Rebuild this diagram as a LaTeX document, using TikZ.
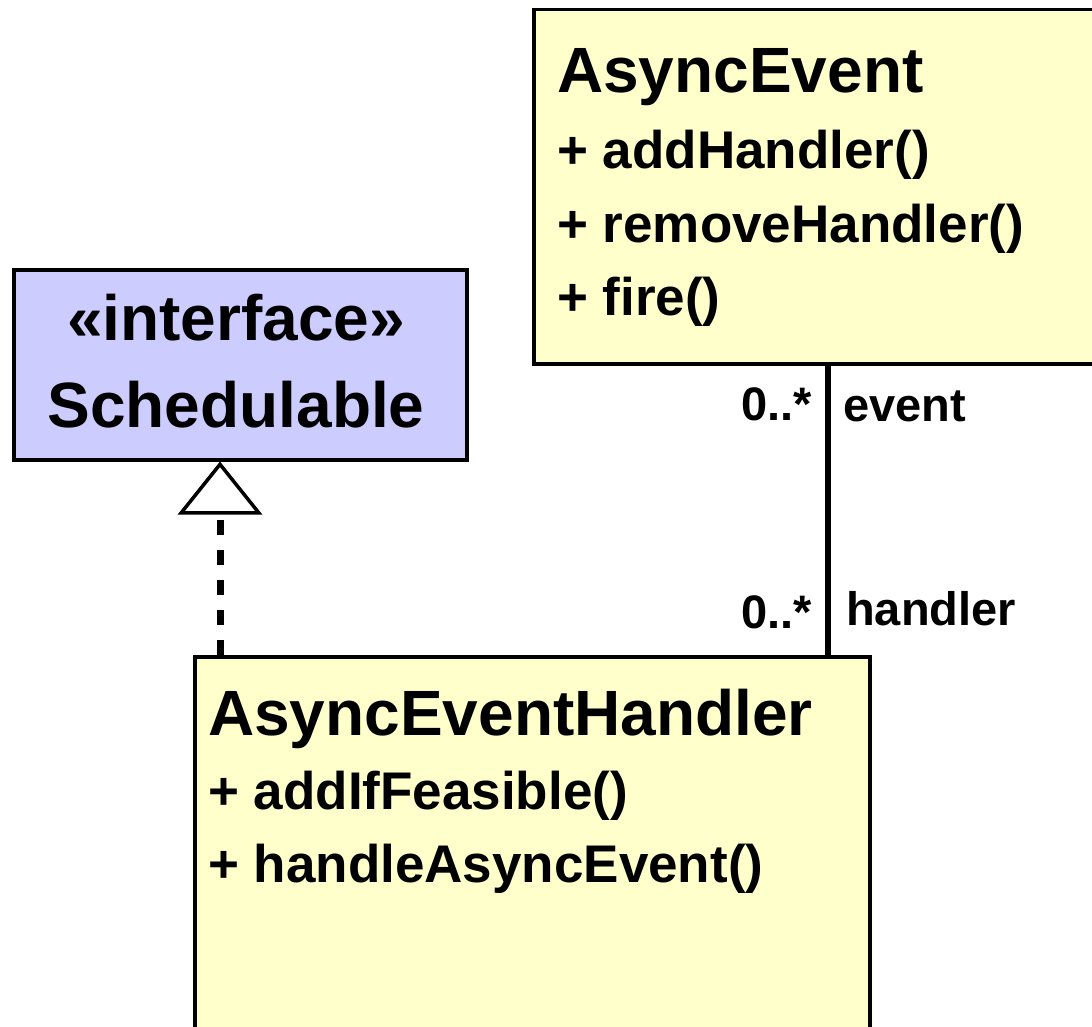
\documentclass[tikz,border=0pt]{standalone}
\usepackage{fontspec}
\setmainfont{Liberation Sans}
\usetikzlibrary{arrows.meta,positioning}
\definecolor{classyellow}{HTML}{FFFFCC}
\definecolor{ifaceblue}{HTML}{CCCCFF}
\tikzset{
  classbox/.style={draw,line width=3.5pt,rectangle,anchor=north west,inner sep=0pt},
  classname/.style={anchor=base west,inner sep=0pt,font=\bfseries\fontsize{64}{70}\selectfont},
  member/.style={anchor=base west,inner sep=0pt,font=\bfseries\fontsize{53}{60}\selectfont},
  rolelabel/.style={inner sep=0pt,font=\bfseries\fontsize{47}{52}\selectfont},
  assoc/.style={line width=6pt},
  realize/.style={line width=7pt,dash pattern=on 15pt off 15pt,
    -{Triangle[open,length=53pt,width=84pt,line width=3.5pt]}}
}
\begin{document}
\begin{tikzpicture}[x=1pt,y=1pt]
        \useasboundingbox (0,0) rectangle (1092,-1027);
        \clip (0,0) rectangle (1092,-1027);
        %% Classes
        \node[classbox,fill=classyellow,minimum width=588pt,minimum height=354pt] (event) at (532,-8) {};
        \node[classbox,fill=ifaceblue,minimum width=453pt,minimum height=190pt] (sched) at (12,-268) {};
        \node[classbox,fill=classyellow,minimum width=675pt,minimum height=420pt] (handler) at (193,-655) {};
        %% AsyncEvent
        \node[classname] (eventname) at (557,-93) {AsyncEvent};
        \node[member] (addhandler) at (557,-169) {+ addHandler()};
        \node[member] (removehandler) at (557,-243) {+ removeHandler()};
        \node[member] (fire) at (557,-315) {+ fire()};
        %% Schedulable
        \node[classname,anchor=base] (stereo) at (236,-340) {«interface»};
        \node[classname,anchor=base] (schedname) at (236,-427) {Schedulable};
        %% AsyncEventHandler
        \node[classname] (handlername) at (208,-735) {AsyncEventHandler};
        \node[member] (addif) at (208,-809) {+ addIfFeasible()};
        \node[member] (handleevent) at (208,-882) {+ handleAsyncEvent()};
        %% Association
        \draw[assoc] (event.south) -- (event.south |- handler.north);
        \node[rolelabel,anchor=base east] (eventmult) at (812,-420) {0..*};
        \node[rolelabel,anchor=base west] (eventrole) at (843,-421) {event};
        \node[rolelabel,anchor=base east] (handlermult) at (812,-628) {0..*};
        \node[rolelabel,anchor=base west] (handlerrole) at (846,-625) {handler};
        %% Realization
        \coordinate (impl) at (220,-655);
        \draw[realize] (impl) -- (impl |- sched.south);
\end{tikzpicture}
\end{document}
